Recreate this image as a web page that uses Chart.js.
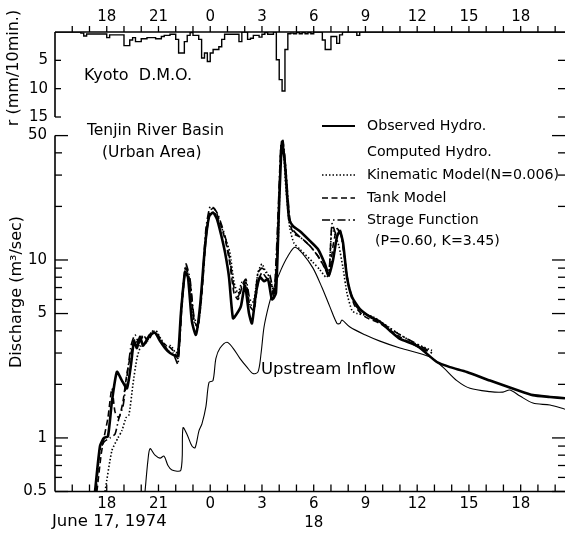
<!DOCTYPE html>
<html><head><meta charset="utf-8">
<script src="https://cdn.jsdelivr.net/npm/chart.js@4/dist/chart.umd.min.js"></script>
<style>
html,body{margin:0;padding:0;background:#fff;}
#wrap{position:relative;width:565px;height:536px;overflow:hidden;}
canvas{position:absolute;left:0;top:0;}
</style></head><body>
<div id="wrap"><canvas id="bot" width="565" height="536"></canvas><canvas id="top" width="565" height="536"></canvas></div>
<script>
// ---- time axis (hours counted from 00:00 June 17, 1974) ----
const hourTickValues = [18,21,24,27,30,33,36,39,42];
const hourTickLabels = ['18','21','0','3','6','9','12','15','18'];
const hourMinorTicks = [16,17,18,19,20,21,22,23,24,25,26,27,28,29,30,31,32,33,34,35,36,37,38,39,40,41,42,43,44];

// ---- rainfall (mm / 10 min), Kyoto D.M.O., 10-minute steps from 16:30 June 17 ----
const rainStartHour = 16.5;
const rain10min = [0.2,0.7,0.35,0.35,0.35,0.35,0.35,0.35,0.35,1.0,0.5,0.5,0.5,0.5,0.5,2.4,2.4,1.4,1.0,1.7,1.7,1.2,1.2,1.0,1.0,1.0,1.2,1.2,0.8,0.6,0.6,0.4,0.4,1.3,3.7,3.7,1.7,0.6,0.1,0.6,0.6,1.3,4.6,3.7,5.2,3.7,3.1,3.1,2.6,1.3,0.4,0.4,0.4,0.4,0.4,1.7,0,0,1.3,1.1,0.6,0.6,0.9,0.4,0.1,0.4,0.4,0,4.9,8.4,10.4,3.1,0.3,0.2,0.3,0.1,0.3,0.1,0.3,0.1,0.3,0,0,0,1.4,3.1,3.1,0.8,0.8,2.0,0.5,0,0,0,0,0,0.6,0];
const rainTickValues = [5,10,15];
const rainTickLabels = ['5','10','15'];

// ---- discharge (m3/sec) ----
const dischargeTickValues = [0.5,1,5,10,50];
const dischargeTickLabels = ['0.5','1','5','10','50'];
const dischargeMinorTicks = [0.5,0.6,0.7,0.8,0.9,1,2,3,4,5,6,7,8,9,10,20,30,40,50];

const observedT = [17.32,17.61,17.84,18.07,18.30,18.59,18.88,19.17,19.41,19.58,19.75,19.93,20.10,20.28,20.51,20.80,21.09,21.38,21.67,21.96,22.13,22.30,22.54,22.71,22.94,23.17,23.41,23.70,23.93,24.16,24.39,24.62,24.86,25.09,25.32,25.55,25.78,26.01,26.25,26.42,26.65,26.88,27.12,27.35,27.58,27.81,27.99,28.16,28.33,28.57,28.80,29.20,29.78,30.25,30.65,30.88,31.12,31.35,31.52,31.70,31.93,32.22,32.68,33.26,33.84,34.42,35.00,35.99,37.14,37.90,38.88,40.22,41.78,42.71,43.70,44.57];
const observedQ = [0.5,0.9,1.0,1.02,1.6,2.35,2.1,1.9,2.6,3.5,3.2,3.7,3.3,3.5,3.8,3.9,3.5,3.2,3.0,2.9,2.9,5.0,8.6,8.0,4.5,3.8,5.5,12,17.5,18.5,17,14,11,8,4.7,5.0,5.5,7.2,5.0,4.4,6.5,8.0,7.6,7.8,6.0,6.5,20,46,35,17,15.5,14.5,12.8,11.5,9.5,8.2,10,13.5,14.5,12.5,8,6.2,5.3,4.8,4.5,4.0,3.6,3.3,2.67,2.5,2.35,2.1,1.86,1.74,1.70,1.67];

const kinematicT = [17.90,18.30,18.65,18.88,19.12,19.29,19.52,19.75,19.99,20.28,20.57,20.86,21.14,21.43,21.72,22.01,22.19,22.36,22.59,22.83,23.06,23.29,23.52,23.75,23.99,24.22,24.45,24.68,24.91,25.14,25.38,25.61,25.84,26.07,26.30,26.54,26.77,27.00,27.23,27.46,27.70,27.93,28.10,28.22,28.39,28.62,28.86,29.20,29.96,30.36,30.71,30.88,31.06,31.23,31.46,31.70,31.93,32.22,32.51,33.43,34.83,35.87,36.86];
const kinematicQ = [0.5,0.85,1.0,1.1,1.3,1.35,2.0,2.8,3.3,3.4,3.9,4.0,3.6,3.3,3.3,3.0,3.3,6,9.2,7,4.5,4.2,7,14,18,18.5,17,15,13,11,7.5,6.5,7.5,7,5.5,6,8.5,9.5,8.5,8,6.5,12,40,44,25,15,12.4,11.5,9.7,8.8,8.0,8.3,15.5,14,12,9,6.5,5.2,5.0,4.8,3.9,3.4,3.1];

const tankT = [17.43,17.67,17.84,18.07,18.30,18.48,18.71,18.94,19.17,19.41,19.64,19.87,20.10,20.39,20.68,20.97,21.26,21.55,21.84,22.13,22.36,22.59,22.83,23.06,23.29,23.52,23.75,23.99,24.22,24.45,24.68,24.91,25.14,25.38,25.61,25.84,26.07,26.30,26.54,26.77,27.00,27.23,27.46,27.70,27.93,28.10,28.22,28.39,28.62,28.86,29.20,29.78,30.25,30.65,30.88,31.12,31.35,31.58,31.81,32.04,32.39,32.97,33.84,35.00,36.16,36.86];
const tankQ = [0.5,0.8,1.0,1.3,1.9,1.4,1.3,1.6,2.3,3.0,3.6,3.3,3.8,3.5,3.9,3.8,3.4,3.3,3.1,2.8,5.5,9.0,7.5,4.6,4.2,6.5,13,19,19.5,17.5,15,12.5,9.5,6.5,6,7,7.5,5.5,5.2,7.5,8.5,8,7.5,6.2,15,44,46,30,16,14,13.5,12,10.5,9,8,12,15,14,10,7,5.5,4.8,4.4,3.7,3.2,3.0];

const storageT = [17.38,17.61,17.84,18.19,18.48,18.71,18.94,19.17,19.41,19.64,19.87,20.10,20.39,20.68,20.97,21.26,21.55,21.84,22.13,22.36,22.59,22.83,23.06,23.29,23.52,23.75,23.99,24.22,24.45,24.68,24.91,25.14,25.38,25.61,25.84,26.07,26.30,26.54,26.77,27.00,27.23,27.46,27.70,27.93,28.10,28.22,28.39,28.62,28.86,29.20,29.78,30.25,30.65,30.88,31.06,31.29,31.52,31.75,31.99,32.39,32.97,33.84,35.00,36.16,36.86];
const storageQ = [0.5,0.85,0.95,1.0,1.05,1.3,1.5,2.2,3.3,3.8,3.4,3.7,3.6,4.0,3.7,3.4,3.1,3.0,2.6,6,9.5,7.8,4.8,4.3,7,15,20,19.5,18,15.5,13,10,7,6.2,7.2,7.8,6,5.8,8.5,9,8.6,8.2,6.5,18,45,47,32,17,14.5,13.5,12,10.5,9,8.5,16,14,15,11,7.5,5.6,5.0,4.5,3.8,3.3,3.0];

const upstreamT = [20.22,20.39,20.51,20.80,21.09,21.32,21.55,21.78,22.30,22.42,22.65,22.94,23.12,23.35,23.52,23.75,23.93,24.16,24.33,24.57,24.97,25.32,25.72,26.13,26.48,26.77,26.95,27.12,27.40,27.70,28.10,28.50,28.91,29.38,29.96,30.48,30.94,31.35,31.52,31.64,32.10,32.97,33.84,35.00,36.74,37.49,38.30,39.06,40.22,40.97,41.38,41.96,42.71,43.70,44.57];
const upstreamQ = [0.5,0.75,0.87,0.8,0.77,0.79,0.7,0.66,0.66,1.14,1.05,0.9,0.88,1.1,1.2,1.5,2.05,2.1,2.8,3.2,3.45,3.2,2.8,2.5,2.3,2.35,3.0,4.2,5.6,7.0,8.8,10.5,11.8,10.8,9.0,7.0,5.45,4.4,4.4,4.6,4.2,3.8,3.5,3.2,2.85,2.5,2.1,1.9,1.82,1.81,1.86,1.72,1.57,1.53,1.45];

const pts = (ts, qs) => ts.map((t, i) => ({x: t, y: qs[i]}));
const rainPts = [{x: 15, y: 0}]
  .concat(rain10min.map((r, i) => ({x: rainStartHour + i / 6, y: r})))
  .concat([{x: rainStartHour + rain10min.length / 6, y: 0}, {x: 44.57, y: 0}]);

const FONT = '"DejaVu Sans", sans-serif';
const X_MIN = 15, X_MAX = 44.57;

function txt(ctx, s, x, y, size, align) {
  ctx.font = size + 'px ' + FONT;
  ctx.textAlign = align || 'left';
  ctx.textBaseline = 'middle';
  ctx.fillText(s, x, y);
}
function seg(ctx, x1, y1, x2, y2) { ctx.beginPath(); ctx.moveTo(x1, y1); ctx.lineTo(x2, y2); ctx.stroke(); }

const bottomFrame = {
  id: 'bottomFrame',
  afterDraw(chart) {
    const {ctx, chartArea: a, scales: {x, y}} = chart;
    ctx.save();
    ctx.strokeStyle = '#000'; ctx.fillStyle = '#000'; ctx.lineWidth = 1.6; ctx.setLineDash([]);
    seg(ctx, a.left, a.top, a.left, a.bottom);
    seg(ctx, a.left, a.bottom, a.right, a.bottom);
    ctx.lineWidth = 1.3;
    hourMinorTicks.forEach(h => { const px = x.getPixelForValue(h); seg(ctx, px, a.bottom, px, a.bottom - 7); });
    dischargeMinorTicks.forEach(v => {
      const py = y.getPixelForValue(v);
      const len = dischargeTickValues.includes(v) ? 13 : 7;
      seg(ctx, a.left, py, a.left + len, py);
      seg(ctx, a.right, py, a.right - len, py);
    });
    // annotations
    txt(ctx, 'Tenjin River Basin', 87, 131, 15.5);
    txt(ctx, '(Urban Area)', 102, 153, 15.5);
    txt(ctx, 'Upstream Inflow', 261, 370, 16.5);
    txt(ctx, 'June 17, 1974', 52, 522, 16.5);
    // legend
    const lx1 = 322, lx2 = 355, tx = 367, fs = 14.2;
    ctx.lineWidth = 2.2; seg(ctx, lx1, 126, lx2, 126);
    txt(ctx, 'Observed Hydro.', tx, 126, fs);
    txt(ctx, 'Computed Hydro.', tx, 152, fs);
    ctx.lineWidth = 1.4; ctx.setLineDash([1.5, 2]); seg(ctx, lx1, 175, lx2, 175);
    txt(ctx, 'Kinematic Model(N=0.006)', tx, 175, fs);
    ctx.setLineDash([6, 3.5]); seg(ctx, lx1, 198, lx2, 198);
    txt(ctx, 'Tank Model', tx, 198, fs);
    ctx.setLineDash([8, 3, 1.5, 3]); seg(ctx, lx1, 220, lx2, 220);
    ctx.setLineDash([]);
    txt(ctx, 'Strage Function', tx, 220, fs);
    txt(ctx, '(P=0.60, K=3.45)', 375, 241, fs);
    // y title
    ctx.save(); ctx.translate(17, 292); ctx.rotate(-Math.PI / 2);
    txt(ctx, 'Discharge (m\u00B3/sec)', 0, 0, 16, 'center');
    ctx.restore();
    ctx.restore();
  }
};

const topFrame = {
  id: 'topFrame',
  afterDraw(chart) {
    const {ctx, chartArea: a, scales: {x, y}} = chart;
    ctx.save();
    ctx.strokeStyle = '#000'; ctx.fillStyle = '#000'; ctx.lineWidth = 1.6;
    seg(ctx, a.left, a.top, a.right, a.top);
    seg(ctx, a.left, a.top, a.left, a.bottom);
    ctx.lineWidth = 1.3;
    hourMinorTicks.forEach(h => { const px = x.getPixelForValue(h); seg(ctx, px, a.top, px, a.top - 6); });
    rainTickValues.forEach(v => {
      const py = y.getPixelForValue(v);
      seg(ctx, a.left, py, a.left + 6, py);
      seg(ctx, a.right, py, a.right - 7, py);
    });
    txt(ctx, 'Kyoto  D.M.O.', 84, 76, 16);
    ctx.save(); ctx.translate(14, 68); ctx.rotate(-Math.PI / 2);
    txt(ctx, 'r (mm/10min.)', 0, 0, 16, 'center');
    ctx.restore();
    ctx.restore();
  }
};

const commonPlugins = {legend: {display: false}, tooltip: {enabled: false}};
const tickFont = {family: FONT, size: 15, lineHeight: 1.25};

new Chart(document.getElementById('bot'), {
  type: 'line',
  data: {datasets: [
    {label: 'Upstream Inflow', data: pts(upstreamT, upstreamQ), borderColor: '#000', borderWidth: 1.1, pointRadius: 0, tension: 0.3},
    {label: 'Kinematic Model (N=0.006)', data: pts(kinematicT, kinematicQ), borderColor: '#000', borderWidth: 1.6, borderDash: [1.5, 2], pointRadius: 0, tension: 0.2},
    {label: 'Tank Model', data: pts(tankT, tankQ), borderColor: '#000', borderWidth: 1.6, borderDash: [6, 3.5], pointRadius: 0, tension: 0.2},
    {label: 'Strage Function', data: pts(storageT, storageQ), borderColor: '#000', borderWidth: 1.6, borderDash: [8, 3, 1.5, 3], pointRadius: 0, tension: 0.2},
    {label: 'Observed Hydro.', data: pts(observedT, observedQ), borderColor: '#000', borderWidth: 2.6, pointRadius: 0, tension: 0.2}
  ]},
  options: {
    responsive: false, animation: false, events: [],
    layout: {padding: {top: 135.6, left: 0, right: 0, bottom: 0}},
    plugins: commonPlugins,
    scales: {
      x: {type: 'linear', min: X_MIN, max: X_MAX,
        afterFit: s => { s.height = 44.5; },
        afterBuildTicks: s => { s.ticks = hourTickValues.map(v => ({value: v})); },
        ticks: {autoSkip: false, maxRotation: 0, padding: 3, font: tickFont, color: '#000',
          callback: v => { const i = hourTickValues.indexOf(v); return i < 0 ? '' : (v === 30 ? [hourTickLabels[i], '18'] : hourTickLabels[i]); }},
        grid: {display: false, drawTicks: false}, border: {display: false}},
      y: {type: 'logarithmic', min: 0.5, max: 50,
        afterFit: s => { s.width = 55; },
        afterBuildTicks: s => { s.ticks = dischargeTickValues.map(v => ({value: v})); },
        ticks: {autoSkip: false, padding: 8, font: tickFont, color: '#000',
          callback: v => { const i = dischargeTickValues.indexOf(v); return i < 0 ? '' : dischargeTickLabels[i]; }},
        grid: {display: false, drawTicks: false}, border: {display: false}}
    }
  },
  plugins: [bottomFrame]
});

new Chart(document.getElementById('top'), {
  type: 'line',
  data: {datasets: [
    {label: 'Rainfall', data: rainPts, stepped: true, borderColor: '#000', borderWidth: 1.4, pointRadius: 0, fill: false}
  ]},
  options: {
    responsive: false, animation: false, events: [],
    layout: {padding: {top: 0, left: 0, right: 0, bottom: 536 - 117}},
    plugins: commonPlugins,
    scales: {
      x: {type: 'linear', position: 'top', min: X_MIN, max: X_MAX,
        afterFit: s => { s.height = 32; },
        afterBuildTicks: s => { s.ticks = hourTickValues.map(v => ({value: v})); },
        ticks: {autoSkip: false, maxRotation: 0, padding: 6, font: tickFont, color: '#000',
          callback: v => { const i = hourTickValues.indexOf(v); return i < 0 ? '' : hourTickLabels[i]; }},
        grid: {display: false, drawTicks: false}, border: {display: false}},
      y: {type: 'linear', min: 0, max: 15, reverse: true,
        afterFit: s => { s.width = 55; },
        afterBuildTicks: s => { s.ticks = rainTickValues.map(v => ({value: v})); },
        ticks: {autoSkip: false, padding: 7, font: tickFont, color: '#000',
          callback: v => { const i = rainTickValues.indexOf(v); return i < 0 ? '' : rainTickLabels[i]; }},
        grid: {display: false, drawTicks: false}, border: {display: false}}
    }
  },
  plugins: [topFrame]
});
</script>
</body></html>
